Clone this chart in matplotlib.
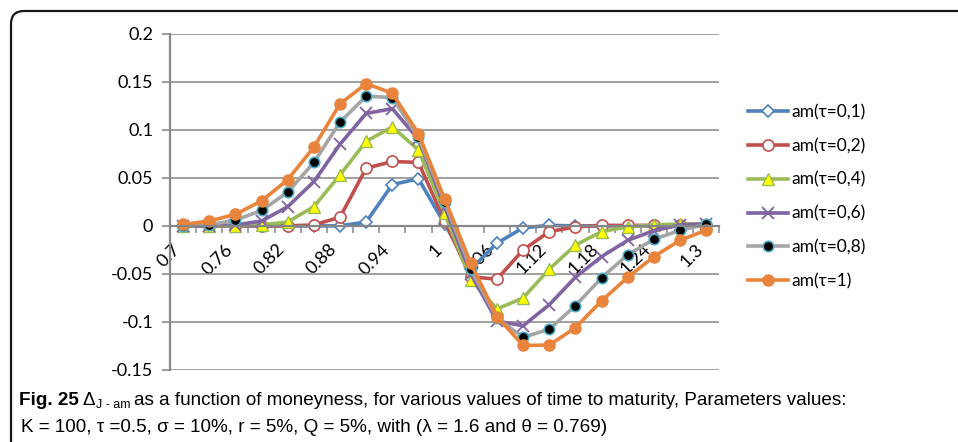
import matplotlib
matplotlib.use("Agg")
import matplotlib.pyplot as plt
from matplotlib.patches import FancyBboxPatch
from matplotlib.ticker import FixedLocator, NullFormatter

# moneyness categories and Delta values
moneyness = [0.7, 0.73, 0.76, 0.79, 0.82, 0.85, 0.88, 0.91, 0.94, 0.97, 1.0,
             1.03, 1.06, 1.09, 1.12, 1.15, 1.18, 1.21, 1.24, 1.27, 1.3]
tick_labels = ["0.7", "0.76", "0.82", "0.88", "0.94", "1", "1.06", "1.12", "1.18", "1.24", "1.3"]

am_tau_01 = [0, 0, 0, 0, 0, 0, 0, 0.004, 0.043, 0.049, 0.002,
             -0.045, -0.018, -0.002, 0.0005, 0, 0, 0, 0, 0, 0]
am_tau_02 = [0, 0, 0, 0, 0, 0.001, 0.009, 0.060, 0.067, 0.066, 0.005,
             -0.053, -0.0555, -0.025, -0.006, -0.001, 0.0005, 0.0005, 0.0005, 0.0005, 0.0005]
am_tau_04 = [0, 0, 0, 0.001, 0.004, 0.020, 0.053, 0.088, 0.103, 0.079, 0.013,
             -0.056, -0.0865, -0.075, -0.045, -0.020, -0.006, -0.001, 0.001, 0.002, 0.002]
am_tau_06 = [0, 0, 0.001, 0.005, 0.020, 0.046, 0.085, 0.117, 0.122, 0.090, 0.020,
             -0.050, -0.099, -0.104, -0.082, -0.0535, -0.032, -0.015, -0.005, 0.001, 0.002]
am_tau_08 = [0, 0.001, 0.006, 0.016, 0.035, 0.066, 0.108, 0.135, 0.1335, 0.092, 0.025,
             -0.045, -0.096, -0.116, -0.1075, -0.083, -0.054, -0.030, -0.014, -0.0045, 0.0015]
am_tau_1 = [0.0015, 0.005, 0.012, 0.026, 0.048, 0.082, 0.127, 0.148, 0.138, 0.096, 0.028,
            -0.039, -0.0945, -0.1245, -0.124, -0.106, -0.078, -0.0535, -0.032, -0.015, -0.0045]

series = [
    ("am(τ=0,1)", am_tau_01, dict(color="#4F81BD", marker="D", mfc="white", mec="#4F81BD", ms=6.5, mew=1.2)),
    ("am(τ=0,2)", am_tau_02, dict(color="#C0504D", marker="o", mfc="white", mec="#C0504D", ms=8, mew=1.2)),
    ("am(τ=0,4)", am_tau_04, dict(color="#9BBB59", marker="^", mfc="#FFFF00", mec="#9BBB59", ms=8.5, mew=1.0)),
    ("am(τ=0,6)", am_tau_06, dict(color="#8064A2", marker="x", mfc="#8064A2", mec="#8064A2", ms=9, mew=1.3)),
    ("am(τ=0,8)", am_tau_08, dict(color="#A5A5A5", marker="o", mfc="black", mec="#4BACC6", ms=7.5, mew=1.2)),
    ("am(τ=1)", am_tau_1, dict(color="#E8843C", marker="o", mfc="#E8843C", mec="#E8843C", ms=8, mew=1.0)),
]

W, H = 958, 442
fig = plt.figure(figsize=(W / 100, H / 100), dpi=100)
fig.patch.set_facecolor("white")

ax = fig.add_axes([170 / W, 1 - 370 / H, (719.3 - 170) / W, (370 - 33.7) / H])
grid_c = "#868686"
chart_font = ["Lato", "DejaVu Sans"]

pos = list(range(len(moneyness)))
for label, vals, st in series:
    ax.plot(pos, vals, lw=2.6, label=label, solid_joinstyle="round", **st)

ax.set_xlim(-0.5, len(moneyness) - 0.5)
ax.set_ylim(-0.15, 0.2)
ax.set_yticks([-0.15, -0.1, -0.05, 0, 0.05, 0.1, 0.15, 0.2])
ax.set_yticklabels(["-0.15", "-0.1", "-0.05", "0", "0.05", "0.1", "0.15", "0.2"],
                   family=chart_font, fontsize=13)
ax.yaxis.grid(True, color=grid_c, lw=1.1)
ax.set_axisbelow(True)
ax.tick_params(axis="y", length=6, color=grid_c, width=1.1, pad=6)

for s in ["top", "right"]:
    ax.spines[s].set_visible(False)
ax.spines["left"].set_color(grid_c)
ax.spines["left"].set_linewidth(1.6)
ax.spines["bottom"].set_position(("data", 0))
ax.spines["bottom"].set_color(grid_c)
ax.spines["bottom"].set_linewidth(1.6)

# tick marks between categories, labels on every other category
ax.xaxis.set_major_locator(FixedLocator([i - 0.5 for i in range(len(moneyness) + 1)]))
ax.xaxis.set_major_formatter(NullFormatter())
ax.xaxis.set_minor_locator(FixedLocator(pos[::2]))
ax.set_xticklabels(tick_labels, minor=True, rotation=45, ha="right", va="top",
                   family=chart_font, fontsize=13)
ax.tick_params(axis="x", which="major", length=5, color=grid_c, width=1.1)
ax.tick_params(axis="x", which="minor", length=0, pad=11)

leg = fig.legend(loc="upper left", bbox_to_anchor=(748 / W, 1 - 104 / H), frameon=False,
                 prop={"family": chart_font, "size": 12.5}, handlelength=2.3,
                 handletextpad=0.2, labelspacing=1.02, borderpad=0, borderaxespad=0)

# rounded frame around the figure (right and bottom run off the picture)
frame = FancyBboxPatch((11 / 100, -1.0), 20, (H - 11) / 100 + 1.0,
                       boxstyle="round,pad=0,rounding_size=0.13",
                       transform=fig.dpi_scale_trans, fill=False, ec="#1a1a1a", lw=1.6,
                       clip_on=False)
fig.patches.append(frame)

# caption, written run by run
renderer = fig.canvas.get_renderer()
cap_font = ["Liberation Sans", "DejaVu Sans"]


def run(x, y, s, size=13.6, **kw):
    t = fig.text(x / W, 1 - y / H, s, family=cap_font, fontsize=size, va="baseline",
                 ha="left", **kw)
    return t.get_window_extent(renderer).x1


x = run(19, 405, "Fig. 25", weight="bold")
x = run(x + 4, 405, "Δ")
x = run(x + 1, 408, "J - am", size=9)
run(x + 3, 405, "as a function of moneyness, for various values of time to maturity, Parameters values:")
run(21, 432, "K = 100, τ =0.5, σ = 10%, r = 5%, Q = 5%, with (λ = 1.6 and θ = 0.769)")

fig.savefig("out.png", dpi=100)
